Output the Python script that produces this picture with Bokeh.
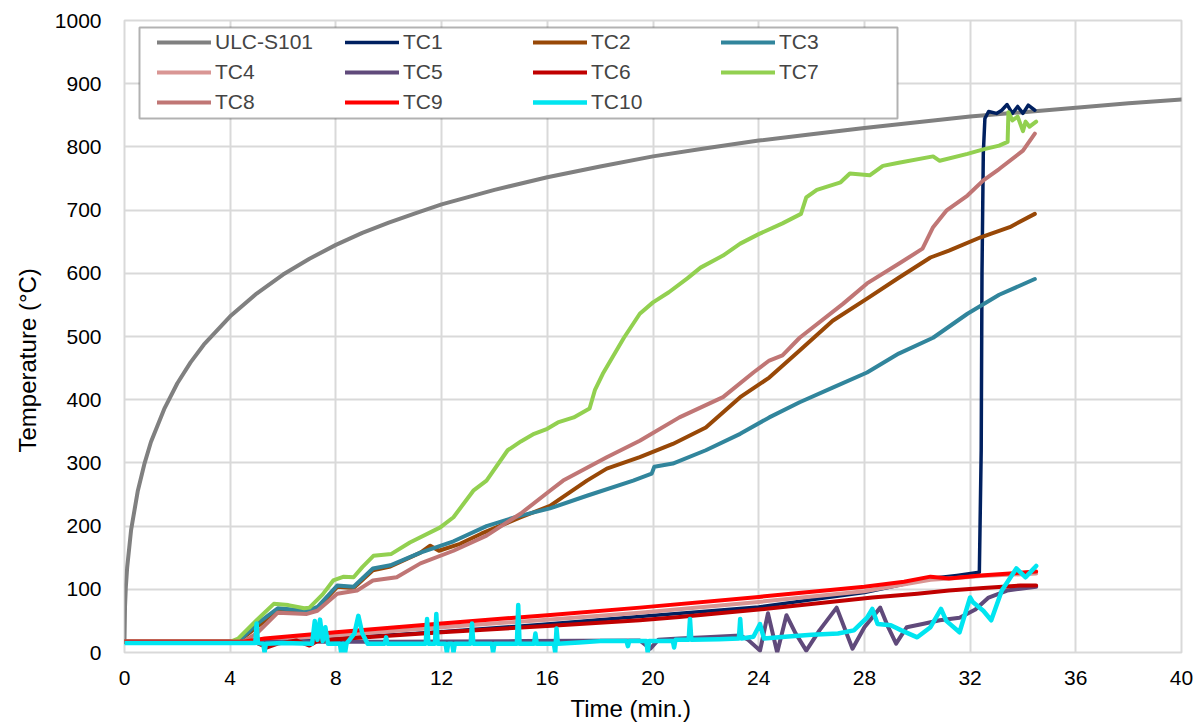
from bokeh.plotting import figure
from bokeh.models import Legend, LegendItem, FixedTicker, BoxAnnotation, Title
from bokeh.embed import file_html
from bokeh.resources import INLINE

# ---------------- data ----------------
ulc_t = [0, 0.02, 0.05, 0.1, 0.25, 0.5, 0.75, 1, 1.5, 2, 2.5, 3, 4, 5, 6, 7, 8, 9, 10, 11, 12, 14, 16, 18, 20, 22, 24, 26, 28, 30, 32, 34, 36, 38, 40]
ulc_T = [20, 73, 103, 134, 194, 255, 298, 333, 385, 426, 459, 487, 532, 568, 598, 623, 645, 664, 680, 695, 709, 732, 752, 769, 785, 798, 810, 820, 830, 839, 848, 855, 862, 869, 875]

tc1_t = [0, 5.5, 8, 12, 16, 19.5, 24, 28, 30.5, 31.5, 32.35, 32.42, 32.45, 32.5, 32.56, 32.7, 33.0, 33.2, 33.4, 33.6, 33.8, 34.0, 34.2, 34.45]
tc1_T = [17, 17, 22, 33, 45, 57, 72, 95, 117, 122, 127, 320, 600, 790, 845, 856, 853, 858, 867, 853, 864, 853, 866, 858]

tc2_t = [0, 4.3, 5.0, 5.8, 6.9, 7.3, 8.05, 8.67, 9.4, 10.06, 11.2, 11.57, 11.9, 12.7, 13.5, 15.0, 16.1, 17.5, 18.25, 19.5, 20.75, 22.0, 23.3, 24.4, 25.55, 26.8, 28.1, 29.3, 30.5, 31.2, 32.4, 33.5, 34.45]
tc2_T = [17, 17, 40, 66, 64, 70, 104, 102, 130, 136, 158, 169, 161, 172, 188, 214, 232, 272, 291, 309, 330, 356, 404, 435, 478, 525, 560, 593, 625, 636, 657, 673, 694]

tc3_t = [0, 4.3, 5.0, 5.8, 6.9, 7.3, 8.05, 8.67, 9.4, 10.06, 11.2, 12.45, 13.7, 14.85, 16.1, 17.5, 19.25, 19.95, 20.05, 20.75, 22.0, 23.3, 24.4, 25.55, 26.8, 28.1, 29.3, 30.6, 31.9, 33.1, 34.45]
tc3_T = [17, 17, 45, 70, 66, 72, 106, 104, 133, 138, 158, 176, 200, 215, 228, 248, 272, 283, 294, 299, 320, 346, 372, 396, 419, 443, 473, 498, 536, 566, 591]

tc4_t = [0, 4.5, 5.5, 8, 12, 16, 19.5, 24, 28, 30.5, 31.5, 32.4, 34.5]
tc4_T = [17, 17, 20, 27, 40, 52, 63, 80, 97, 115, 118, 121, 125]

tc5_t = [0, 5, 10, 15, 19.5, 19.9, 20.2, 21, 22, 23.3, 23.6, 24.05, 24.35, 24.7, 25.05, 25.4, 25.8, 26.3, 26.95, 27.55, 28.0, 28.6, 28.9, 29.2, 29.6, 30.2, 30.85, 31.6, 32.2, 32.7, 33.4, 33.9, 34.5]
tc5_T = [17, 17, 17, 18, 19, 6, 20, 22, 24, 27, 20, 3, 62, 0, 59, 30, 3, 35, 71, 6, 40, 71, 40, 14, 40, 45, 51, 55, 68, 87, 98, 101, 104]

tc6_t = [0, 4.5, 5.0, 5.4, 5.8, 6.5, 7.0, 7.3, 8, 12, 16, 19.5, 21, 24, 28.3, 30, 31.2, 32.5, 33.9, 34.5]
tc6_T = [17, 17, 15, 8, 14, 19, 11, 18, 21, 32, 42, 51, 56, 68, 87, 93, 98, 102, 106, 106]

tc7_t = [0, 4.0, 4.3, 5.0, 5.65, 6.2, 6.8, 7.0, 7.5, 7.9, 8.3, 8.67, 9.0, 9.42, 10.1, 10.8, 11.95, 12.45, 13.2, 13.7, 14.5, 15.0, 15.5, 16.0, 16.4, 17.0, 17.6, 17.8, 18.1, 18.9, 19.5, 20.0, 20.6, 21.3, 21.8, 22.65, 23.3, 24.0, 24.9, 25.6, 25.8, 26.2, 27.1, 27.45, 28.2, 28.7, 29.3, 30.6, 30.85, 31.9, 32.5, 33.1, 33.42, 33.45, 33.6, 33.8, 34.0, 34.1, 34.25, 34.5]
tc7_T = [17, 17, 22, 51, 77, 75, 70, 71, 92, 114, 120, 119, 135, 153, 156, 174, 198, 214, 256, 272, 320, 334, 346, 354, 364, 372, 386, 415, 441, 498, 536, 554, 570, 592, 609, 628, 647, 662, 679, 694, 720, 732, 744, 758, 755, 770, 775, 785, 778, 789, 796, 802, 808, 855, 842, 848, 825, 840, 832, 840]

tc8_t = [0, 4.5, 5.0, 5.8, 6.9, 7.3, 8.05, 8.8, 9.4, 10.3, 11.2, 12.45, 13.7, 15.0, 16.1, 16.6, 18.25, 19.5, 21.0, 22.65, 23.8, 24.4, 24.9, 25.55, 27.2, 28.1, 29.3, 30.2, 30.6, 31.1, 31.9, 32.5, 33.1, 34.0, 34.45]
tc8_T = [17, 17, 30, 63, 61, 66, 93, 98, 114, 119, 141, 161, 185, 220, 256, 272, 309, 335, 372, 404, 443, 462, 470, 498, 552, 584, 615, 639, 673, 699, 723, 747, 765, 794, 821]

tc9_t = [0, 4.5, 5.3, 8, 12, 16, 19.5, 24, 28, 29.5, 30.5, 31.2, 32.4, 33.5, 34.5]
tc9_T = [17, 17, 22, 32, 46, 59, 71, 88, 104, 112, 120, 117, 122, 125, 128]

tc10_t = [0, 4.5, 4.95, 5.0, 5.05, 5.25, 5.3, 5.35, 6.0, 7.1, 7.2, 7.3, 7.4, 7.5, 7.6, 7.7, 8.15, 8.2, 8.25, 8.3, 8.35, 8.4, 8.7, 8.85, 9.0, 9.2, 9.85, 9.9, 9.95, 11.4, 11.45, 11.5, 11.75, 11.8, 11.85, 12.15, 12.2, 12.25, 12.4, 12.45, 12.5, 13.1, 13.15, 13.2, 13.9, 13.95, 14.0, 14.85, 14.9, 14.95, 15.5, 15.55, 15.6, 16.25, 16.3, 16.35, 16.4, 17.2, 18.0, 19.0, 19.05, 19.1, 19.75, 19.8, 19.85, 20.75, 20.8, 20.85, 21.35, 21.4, 21.45, 22.5, 23.25, 23.3, 23.35, 23.8, 24.05, 24.2, 25.0, 26.0, 27.0, 27.6, 28.1, 28.3, 28.5, 29.0, 29.4, 30.0, 30.5, 30.9, 31.1, 31.6, 32.0, 32.1, 32.5, 32.8, 33.2, 33.5, 33.75, 34.1, 34.3, 34.5]
tc10_T = [15, 15, 15, 46, 15, 14, 0, 14, 15, 14, 50, 20, 52, 18, 40, 14, 14, 0, 14, 14, 0, 14, 30, 58, 30, 14, 14, 24, 14, 14, 53, 14, 14, 61, 14, 14, 0, 14, 14, 0, 14, 14, 46, 14, 14, 0, 14, 14, 75, 14, 14, 30, 14, 14, 0, 38, 14, 16, 18, 18, 10, 18, 18, 0, 18, 18, 8, 20, 20, 53, 20, 21, 22, 53, 22, 25, 45, 22, 25, 28, 30, 35, 55, 69, 45, 43, 35, 24, 40, 69, 50, 32, 87, 80, 66, 51, 98, 117, 133, 119, 128, 137]

series_names = ["ULC-S101", "TC1", "TC2", "TC3", "TC4", "TC5", "TC6", "TC7", "TC8", "TC9", "TC10"]
series_x = [ulc_t, tc1_t, tc2_t, tc3_t, tc4_t, tc5_t, tc6_t, tc7_t, tc8_t, tc9_t, tc10_t]
series_y = [ulc_T, tc1_T, tc2_T, tc3_T, tc4_T, tc5_T, tc6_T, tc7_T, tc8_T, tc9_T, tc10_T]
colors = ["#808080", "#002060", "#984807", "#31859C", "#D99694", "#604A7B",
          "#C00000", "#92D050", "#C07675", "#FF0000", "#00E5F0"]
widths = [4, 3.5, 4, 4, 4, 4, 4, 4, 4, 4, 4.5]

x_ticks = [0, 4, 8, 12, 16, 20, 24, 28, 32, 36, 40]
y_ticks = [0, 100, 200, 300, 400, 500, 600, 700, 800, 900, 1000]
x_title = "Time (min.)"
y_title = "Temperature (°C)"

FONT = "Liberation Sans"

# layout (pixels)
FIG_W, FIG_H = 1196, 728
BL, BR, BT, BB = 124, 15, 20, 76
FRAME_W = FIG_W - BL - BR
FRAME_H = FIG_H - BT - BB
X0, X1, Y0, Y1 = 0, 40, 0, 1000

def px_to_x(px):
    # horizontal pixel offset from the frame's left edge -> data x
    return X0 + (X1 - X0) * px / FRAME_W
def py_to_y(py):
    # vertical pixel offset from the frame's top edge -> data y
    return Y1 - (Y1 - Y0) * py / FRAME_H

p = figure(width=FIG_W, height=FIG_H, x_range=(X0, X1), y_range=(Y0, Y1),
           output_backend="svg", toolbar_location=None,
           min_border_left=BL, min_border_right=BR, min_border_top=BT, min_border_bottom=BB)
p.outline_line_color = "#D9D9D9"
p.outline_line_width = 2

for ax in (p.xaxis, p.yaxis):
    ax.axis_line_color = None
    ax.major_tick_line_color = None
    ax.minor_tick_line_color = None
    ax.major_label_text_font = FONT
    ax.major_label_text_font_size = "21px"
    ax.major_label_text_color = "#000000"

p.xaxis.ticker = FixedTicker(ticks=x_ticks)
p.yaxis.ticker = FixedTicker(ticks=y_ticks)
p.xaxis.major_label_standoff = 12
p.yaxis.major_label_standoff = 17

for g in (p.xgrid, p.ygrid):
    g.grid_line_color = "#D9D9D9"
    g.grid_line_width = 2
p.xgrid.ticker = FixedTicker(ticks=x_ticks)
p.ygrid.ticker = FixedTicker(ticks=y_ticks)

items = []
for name, xs, ys, c, w in zip(series_names, series_x, series_y, colors, widths):
    r = p.line(xs, ys, line_color=c, line_width=w, line_join="round", line_cap="round")
    items.append(LegendItem(label=name, renderers=[r]))

# axis titles as side titles, placed along the axis like the reference
p.add_layout(Title(text=x_title, align="left", offset=446, standoff=10,
                   text_font=FONT, text_font_size="24px", text_font_style="normal",
                   text_color="#000000"), "below")
p.add_layout(Title(text=y_title, align="left", offset=200, standoff=22,
                   text_font=FONT, text_font_size="24px", text_font_style="normal",
                   text_color="#000000"), "left")

# legend frame: pixel offsets inside the plot frame (left, right, top, bottom)
LF_L, LF_R, LF_T, LF_B = 15, 773, 7, 98
frame_box = BoxAnnotation(left=px_to_x(LF_L), right=px_to_x(LF_R),
                          top=py_to_y(LF_T), bottom=py_to_y(LF_B),
                          fill_color="#FFFFFF", fill_alpha=1,
                          line_color="#000000", line_width=2, level="annotation")
p.add_layout(frame_box)

legend = Legend(items=items, location=(33, FRAME_H - LF_B + 1), orientation="horizontal", ncols=4,
                border_line_color=None, background_fill_alpha=0,
                label_text_font=FONT, label_text_font_size="21px",
                glyph_width=54, glyph_height=30, label_height=30, label_width=130,
                label_standoff=4, spacing=0, padding=0, margin=0)
p.add_layout(legend, "center")

open("out.html", "w").write(file_html(p, INLINE))
